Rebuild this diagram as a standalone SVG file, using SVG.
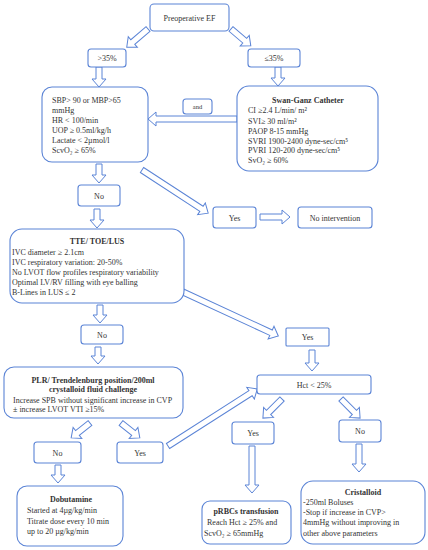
<svg xmlns="http://www.w3.org/2000/svg" width="428" height="550" viewBox="0 0 428 550">
<style>
.bx{fill:#fff;stroke:#5b84d6;stroke-width:1.1}
.ar{fill:#fff;stroke:#5b84d6;stroke-width:1}
text{font-family:"Liberation Serif","Times New Roman",serif;font-size:8px;fill:#333}
.c{text-anchor:middle}
.b{font-weight:bold}
.s{font-size:6.5px}
</style>
<rect width="428" height="550" fill="#fff"/>
<g id="connectors">
<polygon class="ar" transform="translate(148,29) rotate(139.4)" points="0,-3 20,-3 20,-7 28,0 20,7 20,3 0,3"/>
<polygon class="ar" transform="translate(231,29) rotate(40.4)" points="0,-3 18,-3 18,-7 26,0 18,7 18,3 0,3"/>
<polygon class="ar" transform="translate(99,67) rotate(90)" points="0,-3 12,-3 12,-7 20,0 12,7 12,3 0,3"/>
<polygon class="ar" transform="translate(278,67) rotate(90)" points="0,-3 11,-3 11,-7 19,0 11,7 11,3 0,3"/>
<polygon class="ar" transform="translate(237,119) rotate(180)" points="0,-3 81,-3 81,-7 89,0 81,7 81,3 0,3"/>
<polygon class="ar" transform="translate(99,164) rotate(90)" points="0,-3 11,-3 11,-7 19,0 11,7 11,3 0,3"/>
<polygon class="ar" transform="translate(142,170) rotate(33.1)" points="0,-3 71,-3 71,-7 79,0 71,7 71,3 0,3"/>
<polygon class="ar" transform="translate(260,217)" points="0,-3 22,-3 22,-7 30,0 22,7 22,3 0,3"/>
<polygon class="ar" transform="translate(97,209) rotate(90)" points="0,-3 11,-3 11,-7 19,0 11,7 11,3 0,3"/>
<polygon class="ar" transform="translate(183,292) rotate(24.8)" points="0,-3 97,-3 97,-7 105,0 97,7 97,3 0,3"/>
<polygon class="ar" transform="translate(100,305) rotate(90)" points="0,-3 10,-3 10,-7 18,0 10,7 10,3 0,3"/>
<polygon class="ar" transform="translate(98,347) rotate(90)" points="0,-3 9,-3 9,-7 17,0 9,7 9,3 0,3"/>
<polygon class="ar" transform="translate(90,423) rotate(141.7)" points="0,-3 16,-3 16,-7 24,0 16,7 16,3 0,3"/>
<polygon class="ar" transform="translate(121,423) rotate(38.3)" points="0,-3 16,-3 16,-7 24,0 16,7 16,3 0,3"/>
<polygon class="ar" transform="translate(168,446) rotate(-32.6)" points="0,-3 98,-3 98,-7 106,0 98,7 98,3 0,3"/>
<polygon class="ar" transform="translate(312,350) rotate(90)" points="0,-3 13,-3 13,-7 21,0 13,7 13,3 0,3"/>
<polygon class="ar" transform="translate(282,399) rotate(135)" points="0,-3 19,-3 19,-7 27,0 19,7 19,3 0,3"/>
<polygon class="ar" transform="translate(341,399) rotate(45)" points="0,-3 19,-3 19,-7 27,0 19,7 19,3 0,3"/>
<polygon class="ar" transform="translate(252,446) rotate(90)" points="0,-3 39,-3 39,-7 47,0 39,7 39,3 0,3"/>
<polygon class="ar" transform="translate(359,444) rotate(90)" points="0,-3 20,-3 20,-7 28,0 20,7 20,3 0,3"/>
<polygon class="ar" transform="translate(58,465) rotate(90)" points="0,-3 10,-3 10,-7 18,0 10,7 10,3 0,3"/>
</g>
<g id="ef"><rect class="bx" x="150" y="4" width="79" height="27" rx="4"/><text class="c" x="189.5" y="20.5">Preoperative EF</text></g>
<g id="gt35"><rect class="bx" x="88" y="49" width="38" height="18" rx="3"/><text class="c" x="107" y="60.5">&gt;35%</text></g>
<g id="le35"><rect class="bx" x="248" y="49" width="52" height="18" rx="3"/><text class="c" x="274" y="60.5">≤35%</text></g>
<g id="vitals"><rect class="bx" x="42" y="87" width="106" height="75" rx="10"/>
<text x="52" y="103">SBP&gt; 90 or MBP&gt;65</text>
<text x="52" y="113">mmHg</text>
<text x="52" y="123">HR &lt; 100/min</text>
<text x="52" y="133">UOP ≥ 0.5ml/kg/h</text>
<text x="52" y="143">Lactate &lt; 2µmol/l</text>
<text x="52" y="153">ScvO₂ ≥ 65%</text></g>
<g id="and"><rect class="bx" x="183" y="99" width="29" height="15" rx="3"/><text class="c s" x="197.5" y="109">and</text></g>
<g id="swan"><rect class="bx" x="237" y="86" width="141" height="85" rx="12"/>
<text class="c b" x="308" y="103">Swan-Ganz Catheter</text>
<text x="248" y="113">CI ≥2.4 L/min/ m²</text>
<text x="248" y="124">SVI≥ 30 ml/m²</text>
<text x="248" y="134">PAOP 8-15 mmHg</text>
<text x="248" y="144">SVRI 1900-2400 dyne-sec/cm⁵</text>
<text x="248" y="153">PVRI 120-200 dyne-sec/cm⁵</text>
<text x="248" y="163">SvO₂ ≥ 60%</text></g>
<g id="no1"><rect class="bx" x="78" y="185" width="42" height="21" rx="3"/><text class="c" x="99" y="198.5">No</text></g>
<g id="yes1"><rect class="bx" x="213" y="207" width="43" height="21" rx="3"/><text class="c" x="234.5" y="220.5">Yes</text></g>
<g id="nointervention"><rect class="bx" x="298" y="207" width="74" height="21" rx="3"/><text class="c" x="335" y="220.5">No intervention</text></g>
<g id="tte"><rect class="bx" x="10" y="229" width="174" height="74" rx="12"/>
<text class="c b" x="97" y="244">TTE/ TOE/LUS</text>
<text x="12" y="255">IVC diameter ≥ 2.1cm</text>
<text x="12" y="265">IVC respiratory variation: 20-50%</text>
<text x="12" y="275">No LVOT flow profiles respiratory variability</text>
<text x="12" y="285">Optimal LV/RV filling with eye balling</text>
<text x="12" y="295">B-Lines in LUS ≤ 2</text></g>
<g id="no2"><rect class="bx" x="81" y="325" width="42" height="19" rx="3"/><text class="c" x="102" y="337.5">No</text></g>
<g id="yes2"><rect class="bx" x="286" y="328" width="43" height="18" rx="1"/><text class="c" x="307.5" y="340">Yes</text></g>
<g id="plr"><rect class="bx" x="4" y="367" width="179" height="51" rx="10"/>
<text class="c b" x="93" y="383">PLR/ Trendelenburg position/200ml</text>
<text class="c b" x="93" y="392">crystalloid fluid challenge</text>
<text x="13" y="403">Increase SPB without significant increase in CVP</text>
<text x="13" y="411.5">± increase LVOT VTI ≥15%</text></g>
<g id="hct"><rect class="bx" x="257" y="375" width="114" height="19" rx="3"/><text class="c" x="314" y="387.5">Hct &lt; 25%</text></g>
<g id="no3"><rect class="bx" x="34" y="442" width="47" height="21" rx="3"/><text class="c" x="57.5" y="455.5">No</text></g>
<g id="yes3"><rect class="bx" x="117" y="442" width="46" height="21" rx="3"/><text class="c" x="140" y="455.5">Yes</text></g>
<g id="yes4"><rect class="bx" x="232" y="422" width="42" height="22" rx="3"/><text class="c" x="253" y="436">Yes</text></g>
<g id="no4"><rect class="bx" x="339" y="420" width="42" height="22" rx="3"/><text class="c" x="360" y="434">No</text></g>
<g id="dobutamine"><rect class="bx" x="17" y="486" width="106" height="60" rx="10"/>
<text class="c b" x="71" y="502">Dobutamine</text>
<text x="27" y="513">Started at 4µg/kg/min</text>
<text x="27" y="524">Titrate dose every 10 min</text>
<text x="27" y="534">up to 20 µg/kg/min</text></g>
<g id="prbc"><rect class="bx" x="202" y="501" width="89" height="43" rx="8"/>
<text class="c b" x="246" y="514">pRBCs transfusion</text>
<text x="207" y="524.5">Reach Hct ≥ 25% and</text>
<text x="204" y="536">ScvO₂ ≥ 65mmHg</text></g>
<g id="cristalloid"><rect class="bx" x="301" y="481" width="124" height="63" rx="12"/>
<text class="c b" x="363" y="495">Cristalloid</text>
<text x="303" y="505">-250ml Boluses</text>
<text x="303" y="514.5">-Stop if increase in CVP&gt;</text>
<text x="303" y="525">4mmHg without improving in</text>
<text x="303" y="536">other above parameters</text></g>
</svg>
